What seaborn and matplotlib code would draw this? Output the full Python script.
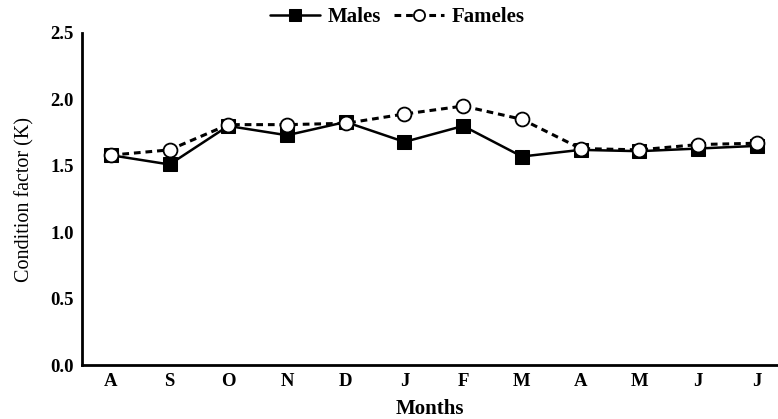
import matplotlib
matplotlib.use("Agg")
import matplotlib.pyplot as plt
import seaborn as sns
import pandas as pd

months = ["A", "S", "O", "N", "D", "J", "F", "M", "A", "M", "J", "J"]
males = [1.58, 1.51, 1.80, 1.73, 1.83, 1.68, 1.80, 1.57, 1.62, 1.61, 1.63, 1.65]
females = [1.58, 1.62, 1.81, 1.81, 1.82, 1.89, 1.95, 1.85, 1.63, 1.62, 1.66, 1.67]
y_ticks = [0.0, 0.5, 1.0, 1.5, 2.0, 2.5]

sns.set_theme(style="white")
plt.rcParams["font.family"] = ["Liberation Serif", "DejaVu Serif"]

df = pd.DataFrame({"idx": range(len(months)), "Males": males, "Fameles": females})

fig = plt.figure(figsize=(7.78, 4.19), dpi=100)
ax = fig.add_axes([82 / 778, 54 / 419, 1 - 82 / 778, (365 - 33) / 419])

sns.lineplot(data=df, x="idx", y="Males", ax=ax, color="black", linewidth=1.8,
             marker="s", markersize=10, markerfacecolor="black",
             markeredgecolor="black", label="Males", zorder=3)
sns.lineplot(data=df, x="idx", y="Fameles", ax=ax, color="black", linewidth=2.2,
             linestyle=(0, (2.2, 1.6)), marker="o", markersize=10,
             markerfacecolor="white", markeredgecolor="black",
             markeredgewidth=1.3, label="Fameles", zorder=4)

ax.set_xlim(-0.49, 11.36)
ax.set_ylim(0, 2.5)
ax.set_xticks(range(len(months)))
ax.set_xticklabels(months, fontweight="bold", fontsize=13.5)
ax.set_yticks(y_ticks)
ax.set_yticklabels([f"{v:.1f}" for v in y_ticks], fontweight="bold", fontsize=13.5)
ax.tick_params(axis="both", direction="in", length=3, width=1.5, color="black",
               labelcolor="black", pad=6)

for side in ["top", "right"]:
    ax.spines[side].set_visible(False)
for side in ["left", "bottom"]:
    ax.spines[side].set_color("black")
    ax.spines[side].set_linewidth(2)

ax.set_xlabel("Months", fontweight="bold", fontsize=15, color="black", labelpad=6)
ax.set_ylabel("Condition factor (K)", fontsize=14.5, color="black", labelpad=11)

leg = ax.legend(loc="center", bbox_to_anchor=(0.453, 1.047), ncol=2,
                frameon=False, prop={"weight": "bold", "size": 15},
                handlelength=2.4, columnspacing=0.6, handletextpad=0.4,
                markerscale=0.8)
for t in leg.get_texts():
    t.set_color("black")

fig.savefig("out.png", dpi=100)
